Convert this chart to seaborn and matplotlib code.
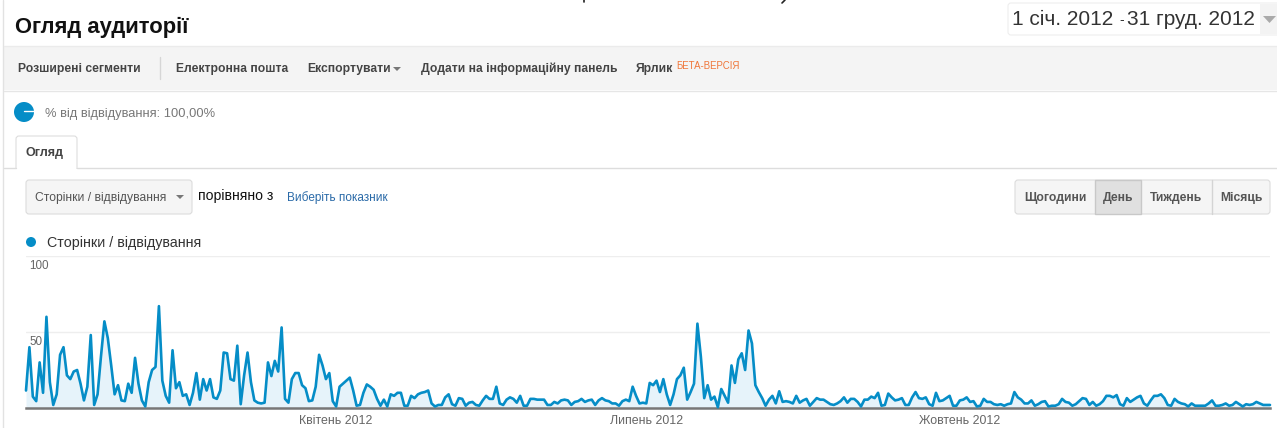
# ==========================================
# Google Analytics audience overview, 2012
# ==========================================

import pandas as pd
import matplotlib.pyplot as plt
import seaborn as sns
from matplotlib.patches import Circle, FancyBboxPatch, Polygon, Rectangle

# ------------------------------------------
# Data: pages per visit for every day of 2012
# ------------------------------------------
pages_q1 = [
    11.5, 40, 7.5, 4.5, 30, 10, 60, 17, 2, 9, 35, 40, 21.5, 19, 24, 25, 16, 5, 14, 48,
    2, 9, 34, 57, 46, 28, 9, 15, 5, 4.5, 16, 10, 33, 16, 5, 1, 17, 25, 27, 67,
    18, 8, 3.5, 38, 13, 17, 8, 9, 2, 10, 23, 5.5, 19, 11.5, 19, 7, 6, 11.5, 36.5, 36,
    19, 18, 41, 2.5, 21.5, 36.5, 17, 5, 3.5, 3, 3.5, 30, 21, 31, 24, 53, 6, 3.5, 19, 23,
    23, 15, 13, 4.5, 5, 14, 35, 28, 19, 23, 4.5,
]
pages_q2 = [
    1, 14, 16, 18, 20, 11.5, 1.5, 2, 10, 15.5, 14, 12, 6, 1.5, 5.5, 1, 9, 8, 10, 10,
    1.5, 1.5, 8, 6.5, 9, 10, 10.5, 11.5, 3, 1, 2, 2, 7, 9, 2.5, 1.5, 6.5, 6, 1.5, 3.5,
    4, 2, 1.5, 5, 8, 6, 6, 14, 3, 2, 5.5, 7, 6, 3.5, 8, 1.5, 1.5, 6, 6, 5.5,
    5.5, 5.5, 2, 2, 4, 3, 5, 5.5, 5, 2, 4, 4.5, 6, 4, 5, 5.5, 2, 5, 6.5, 5,
    4.5, 3, 3, 1.5, 4.5, 5.5, 4.5, 14, 8, 3,
]
pages_q3 = [
    3.5, 3, 16.5, 15, 18, 10.5, 19, 9, 2, 9, 19, 21.5, 26.5, 5.5, 10.5, 16, 55.5, 34, 6.5, 15,
    5.5, 7.5, 0.5, 12.5, 8, 3.5, 28, 16.5, 32, 36, 25, 51, 42.5, 15, 10.5, 6.5, 1.5, 5.5, 8, 3,
    11, 4, 4.5, 4, 3, 8, 3.5, 5, 6, 1.5, 4, 6.5, 5.5, 5.5, 4, 2.5, 2, 3, 4.5, 7,
    3.5, 6, 6, 4, 1, 5.5, 5.5, 7.5, 6.5, 10, 1.5, 2, 9.5, 7, 5, 5.5, 6.5, 2, 2, 7,
    10.5, 6.5, 6, 7, 2.5, 1.5, 10, 4.5, 5, 6.5, 8, 1.5, 1.5,
]
pages_q4 = [
    5, 5.5, 7, 4, 4.5, 1, 1.5, 6, 4, 4, 2.5, 2, 2.5, 1.5, 2.5, 3, 10.5, 7, 5.5, 3,
    3, 5, 1.5, 2.5, 4, 4.5, 1, 1.5, 1.5, 2.5, 6, 4, 3.5, 1.5, 2.5, 4.5, 6.5, 6, 2, 4,
    1.5, 2.5, 4.5, 8, 8, 7, 8.5, 2.5, 1.5, 6.5, 4, 5.5, 7, 8, 3, 1.5, 5, 8, 8, 9,
    6.5, 2, 1.5, 6, 4, 3, 2.5, 1, 3, 1.5, 1.5, 1.5, 1.5, 3, 5, 1.5, 1.5, 2, 3, 1.5,
    2, 4, 2.5, 1, 2.5, 2, 2.5, 4, 3, 2, 2, 2,
]
pages = pages_q1 + pages_q2 + pages_q3 + pages_q4
dates = pd.date_range("2012-01-01", periods=len(pages))

y_ticks = [0, 50, 100]
y_labels = ["50", "100"]
month_ticks = ["2012-04-01", "2012-07-01", "2012-10-01"]
month_labels = ["Квітень 2012", "Липень 2012", "Жовтень 2012"]

toolbar_items = [
    ("Розширені сегменти", 18),
    ("Електронна пошта", 176),
    ("Експортувати", 307),
    ("Додати на інформаційну панель", 421),
    ("Ярлик", 636),
]
period_buttons = [
    ("Щогодини", 1015, 1095),
    ("День", 1095, 1141),
    ("Тиждень", 1141, 1212),
    ("Місяць", 1212, 1270),
]

BLUE = "#058DC7"
W, H = 1277, 428

sns.set_style("white")
plt.rcParams["font.family"] = ["Liberation Sans", "DejaVu Sans"]

fig = plt.figure(figsize=(W / 100, H / 100), dpi=100, facecolor="white")

# ------------------------------------------
# Page furniture, drawn in pixel coordinates
# ------------------------------------------
ui = fig.add_axes([0, 0, 1, 1])
ui.set_xlim(0, W)
ui.set_ylim(H, 0)
ui.axis("off")


def box(x0, y0, x1, y1, face, edge="#dcdcdc"):
    ui.add_patch(FancyBboxPatch((x0, y0), x1 - x0, y1 - y0, boxstyle="round,pad=0,rounding_size=3",
                                facecolor=face, edgecolor=edge, linewidth=0.8))


def arrow(x, y, size=4):
    ui.add_patch(Polygon([(x - size, y - 2), (x + size, y - 2), (x, y + 2)],
                         closed=True, color="#777777", linewidth=0))


ui.plot([3, 3], [0, H], color="#e2e2e2", lw=1)

ui.text(15, 27, "Огляд аудиторії", fontsize=15.8, fontweight="bold", color="#111111", va="center")

# bottoms of a cut off line of text at the very top of the screenshot
ui.plot([584, 584], [0, 2], color="#222222", lw=1.2)
ui.plot([782, 785], [3, 0], color="#222222", lw=1.2)

box(1008, 3, 1290, 35, "white", edge="#eeeeee")
ui.add_patch(Rectangle((1260, 4), 17, 30, color="#f3f3f3", linewidth=0))
ui.text(1012, 19, "1 січ. 2012", fontsize=15, color="#333333", va="center")
ui.text(1119, 20, "-", fontsize=10, color="#333333", va="center")
ui.text(1127, 19, "31 груд. 2012", fontsize=15, color="#333333", va="center")
ui.add_patch(Polygon([(1263, 16), (1276, 16), (1269.5, 23)], closed=True, color="#aaaaaa", linewidth=0))

# toolbar
ui.add_patch(Rectangle((4, 46), W - 4, 44, facecolor="#f4f4f4", edgecolor="none"))
ui.plot([4, W], [45.5, 45.5], color="#ebebeb", lw=1)
ui.plot([4, W], [90.5, 90.5], color="#e6e6e6", lw=1)
ui.plot([159.5, 159.5], [57, 79], color="#d6d6d6", lw=1)
for label, x in toolbar_items:
    ui.text(x, 69, label, fontsize=8.75, fontweight="bold", color="#444444", va="center")
arrow(397, 69)
ui.text(676, 66, "БЕТА-ВЕРСІЯ", fontsize=6.9, color="#F0763A", va="center")

# segment row
ui.add_patch(Circle((24, 112), 10, color=BLUE, linewidth=0))
ui.plot([24, 34], [111, 111], color="white", lw=1)
ui.text(45, 113.5, "% від відвідування: 100,00%", fontsize=9.3, color="#777777", va="center")

# tab
ui.plot([4, 16], [168, 168], color="#dddddd", lw=1)
ui.plot([77, W], [168, 168], color="#dddddd", lw=1)
box(16, 136, 77, 172, "white", edge="#dddddd")
ui.add_patch(Rectangle((15, 168.5), 63, 5, color="white", linewidth=0))
ui.text(25, 153, "Огляд", fontsize=9, fontweight="bold", color="#444444", va="center")

# metric selector
box(26, 180, 192, 214, "#f5f5f5")
ui.text(35, 197.5, "Сторінки / відвідування", fontsize=8.7, color="#555555", va="center")
arrow(180, 197)
ui.text(198, 195.5, "порівняно з", fontsize=10.1, color="#111111", va="center")
ui.text(287, 197.5, "Виберіть показник", fontsize=8.5, color="#2A6AA8", va="center")

# period buttons
box(1015, 180, 1270, 214, "#f5f5f5")
for label, x0, x1 in period_buttons:
    if label == "День":
        ui.add_patch(Rectangle((x0, 180), x1 - x0, 34, facecolor="#e0e0e0", edgecolor="#c8c8c8", linewidth=1))
    elif x0 > 1141:
        ui.plot([x0, x0], [180, 214], color="#d4d4d4", lw=1)
    ui.text((x0 + x1) / 2, 197.5, label, fontsize=8.7, fontweight="bold", color="#555555", va="center", ha="center")

# legend
ui.add_patch(Circle((31, 242), 5, color=BLUE, linewidth=0))
ui.text(47, 243, "Сторінки / відвідування", fontsize=10.3, color="#333333", va="center")

# ------------------------------------------
# Line chart
# ------------------------------------------
df = pd.DataFrame({"date": dates, "pages": pages})

ax = fig.add_axes([26 / W, 1 - 408 / H, (1270 - 26) / W, (408 - 256) / H])
ax.patch.set_alpha(0)

ax.fill_between(df["date"], df["pages"], 0, color="#E6F3FA", linewidth=0)
sns.lineplot(data=df, x="date", y="pages", color=BLUE, linewidth=1.9, ax=ax, clip_on=False, zorder=3)

ax.set_xlim(dates[0], dates[-1])
ax.set_ylim(0, 100)
ax.set_xlabel("")
ax.set_ylabel("")

ax.set_yticks(y_ticks)
ax.set_yticklabels([])
ax.grid(axis="y", color="#eeeeee", lw=1)
ax.set_axisbelow(True)
ax.tick_params(axis="y", length=0)
for value, label in zip(y_ticks[1:], y_labels):
    ax.annotate(label, xy=(0, value), xycoords=("axes fraction", "data"), xytext=(3, -10),
                textcoords="offset pixels", fontsize=8.4, color="#666666", va="center", ha="left")

ax.set_xticks(pd.to_datetime(month_ticks))
ax.set_xticklabels(month_labels, fontsize=8.9, color="#666666")
ax.tick_params(axis="x", length=0, pad=5)

sns.despine(ax=ax, left=True, top=True, right=True)
ax.spines["bottom"].set_color("#777777")
ax.spines["bottom"].set_linewidth(1.8)

plt.savefig("out.png", dpi=100)
